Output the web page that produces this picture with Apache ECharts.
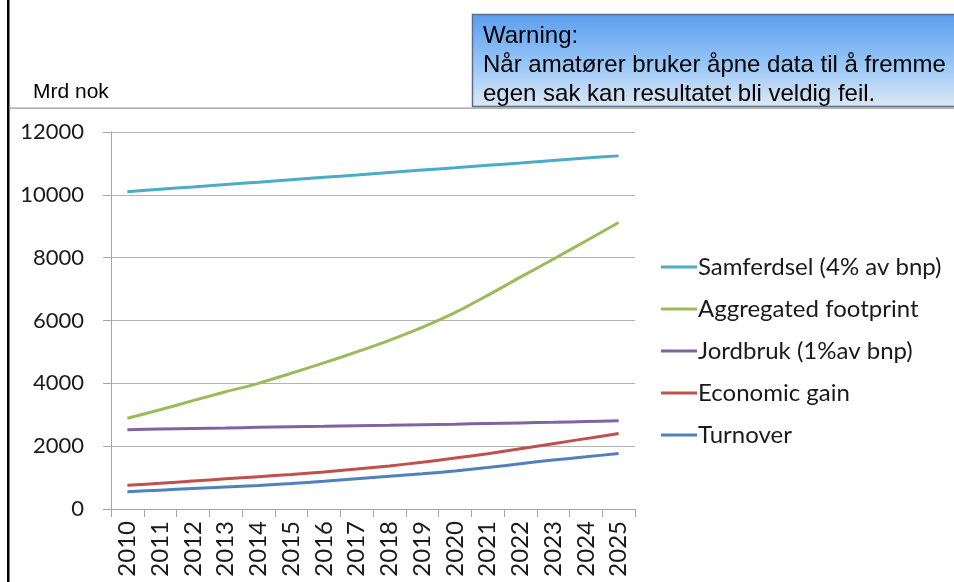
<!DOCTYPE html>
<html><head><meta charset="utf-8">
<script src="https://cdn.jsdelivr.net/npm/echarts@6/dist/echarts.min.js"></script>
<style>html,body{margin:0;padding:0;background:#fff}#c{width:954px;height:582px}</style>
</head><body><div id="c"></div>
<script>
const years = ['2010','2011','2012','2013','2014','2015','2016','2017','2018','2019','2020','2021','2022','2023','2024','2025'];
const samferdsel = [10100,10180,10250,10330,10400,10480,10560,10630,10710,10790,10860,10940,11010,11090,11170,11240];
const aggregated = [2890,3160,3450,3730,4000,4320,4650,5000,5370,5780,6250,6800,7380,7950,8530,9120];
const jordbruk = [2525,2545,2565,2580,2600,2615,2630,2650,2665,2685,2700,2720,2740,2760,2785,2810];
const economic = [755,820,890,960,1030,1100,1180,1270,1370,1490,1620,1760,1920,2080,2240,2400];
const turnover = [550,600,650,700,750,810,880,960,1040,1120,1210,1320,1440,1560,1660,1770];
const yTicks = [0,2000,4000,6000,8000,10000,12000];
const seriesNames = ['Samferdsel (4% av bnp)','Aggregated footprint','Jordbruk (1%av bnp)','Economic gain','Turnover'];
const seriesData = [samferdsel, aggregated, jordbruk, economic, turnover];
const colors = ['#4bacc6','#9bbb59','#8064a2','#c0504d','#4f81bd'];

const chart = echarts.init(document.getElementById('c'));
const calibri = 'Lato, "Open Sans", sans-serif';
chart.setOption({
  animation: false,
  backgroundColor: '#fff',
  grid: {left: 111, top: 132, right: 319, bottom: 73},
  legend: {
    orient: 'vertical', left: 661, top: 255, itemGap: 18, padding: 0,
    itemWidth: 36, itemHeight: 3, icon: 'rect',
    textStyle: {fontFamily: calibri, fontSize: 24, color: '#1a1a1a', padding: [0,0,0,-4]},
    data: seriesNames
  },
  xAxis: {
    type: 'category', data: years, boundaryGap: true,
    axisLine: {lineStyle: {color: '#a6a6a6', width: 1}},
    axisTick: {show: true, length: 8, lineStyle: {color: '#a6a6a6'}},
    axisLabel: {rotate: 90, margin: 12, fontFamily: calibri, fontSize: 24, color: '#1a1a1a'}
  },
  yAxis: {
    type: 'value', min: yTicks[0], max: yTicks[yTicks.length-1], interval: 2000,
    axisLine: {show: true, lineStyle: {color: '#a6a6a6'}},
    axisTick: {show: true, length: 8, lineStyle: {color: '#a6a6a6'}},
    splitLine: {show: true, lineStyle: {color: '#b3b3b3'}},
    axisLabel: {margin: 27, fontFamily: calibri, fontSize: 22, color: '#1a1a1a', formatter: v => String(v)}
  },
  series: seriesNames.map((n, i) => ({
    name: n, type: 'line', data: seriesData[i], smooth: 0.3, showSymbol: false,
    lineStyle: {width: 3, color: colors[i]}, itemStyle: {color: colors[i]}
  })),
  graphic: [
    {type: 'rect', shape: {x: 7, y: 0, width: 2.5, height: 582}, style: {fill: '#000'}, silent: true},
    {type: 'rect', shape: {x: 9, y: 107.5, width: 945, height: 1.2}, style: {fill: '#999'}, silent: true},
    {type: 'text', left: 33, top: 82, style: {text: 'Mrd nok', font: '21px "Liberation Sans", Arial, sans-serif', fill: '#000'}},
    {type: 'rect', shape: {x: 472.5, y: 14.5, width: 520, height: 92},
      style: {fill: new echarts.graphic.LinearGradient(0,0,0,1,[{offset:0,color:'#5b9ded'},{offset:0.5,color:'#93c3f7'},{offset:1,color:'#dde8f4'}]), stroke: '#5a6f8f', lineWidth: 1.5}, silent: true},
    {type: 'text', left: 483, top: 22, style: {text: 'Warning:\nNår amatører bruker åpne data til å fremme\negen sak kan resultatet bli veldig feil.', font: '24px "Liberation Sans", Arial, sans-serif', lineHeight: 29, fill: '#000'}}
  ]
});
</script></body></html>
